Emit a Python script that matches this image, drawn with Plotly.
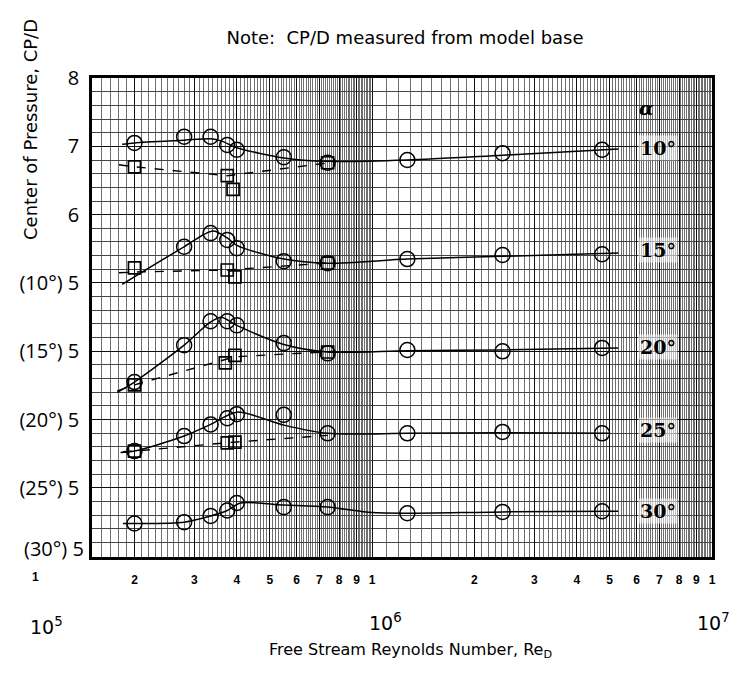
import numpy as np
import plotly.graph_objects as go

# ---------------- data ----------------
# Free-stream Reynolds number of the test points
re_pts = [2.0e5, 2.8e5, 3.35e5, 3.75e5, 4.0e5, 5.5e5, 7.4e5, 1.27e6, 2.42e6, 4.75e6]

# Circles (CP/D for each alpha, each curve on its own offset scale)
c10_re = re_pts
c10 = [7.05, 7.14, 7.14, 7.02, 6.95, 6.84, 6.76, 6.80, 6.90, 6.95]
c15_re = [2.8e5, 3.35e5, 3.75e5, 4.0e5, 5.5e5, 7.4e5, 1.27e6, 2.42e6, 4.75e6]
c15 = [6.53, 6.73, 6.63, 6.51, 6.32, 6.29, 6.35, 6.41, 6.42]
c20_re = re_pts
c20 = [5.55, 6.09, 6.44, 6.44, 6.38, 6.12, 5.97, 6.02, 6.00, 6.05]
c25_re = re_pts
c25 = [5.54, 5.76, 5.93, 6.02, 6.08, 6.07, 5.80, 5.80, 5.82, 5.80]
c30_re = re_pts
c30 = [5.48, 5.50, 5.59, 5.67, 5.78, 5.72, 5.72, 5.63, 5.65, 5.66]

# Squares
s10_re = [2.0e5, 3.75e5, 3.9e5, 7.4e5]
s10 = [6.70, 6.57, 6.37, 6.76]
s15_re = [2.0e5, 3.75e5, 3.95e5, 7.4e5]
s15 = [6.22, 6.19, 6.09, 6.29]
s20_re = [2.0e5, 3.7e5, 3.95e5, 7.4e5]
s20 = [5.51, 5.83, 5.94, 5.99]
s25_re = [2.0e5, 3.75e5, 3.95e5]
s25 = [5.54, 5.66, 5.67]

# Faired solid curves
f10_re = [1.84e5, 2.0e5, 2.8e5, 3.35e5, 3.6e5, 4.0e5, 5.5e5, 7.4e5, 1.27e6, 2.42e6, 5.3e6]
f10 = [7.03, 7.05, 7.09, 7.11, 7.08, 6.98, 6.83, 6.78, 6.80, 6.87, 6.96]
f15_re = [1.84e5, 2.8e5, 3.4e5, 3.75e5, 4.0e5, 5.5e5, 7.4e5, 1.27e6, 2.42e6, 5.3e6]
f15 = [5.98, 6.53, 6.76, 6.66, 6.55, 6.35, 6.29, 6.35, 6.39, 6.44]
f20_re = [1.78e5, 2.0e5, 2.8e5, 3.35e5, 3.6e5, 4.0e5, 5.5e5, 7.4e5, 1.27e6, 2.42e6, 5.3e6]
f20 = [5.40, 5.55, 6.09, 6.43, 6.50, 6.38, 6.10, 5.99, 6.01, 6.02, 6.05]
f25_re = [1.82e5, 2.0e5, 2.8e5, 3.35e5, 4.0e5, 5.5e5, 7.4e5, 1.27e6, 2.42e6, 5.0e6]
f25 = [5.52, 5.54, 5.76, 5.93, 6.11, 5.92, 5.80, 5.80, 5.81, 5.80]
f30_re = [1.85e5, 2.0e5, 2.8e5, 3.35e5, 3.75e5, 4.1e5, 5.5e5, 7.4e5, 1.0e6, 1.27e6, 2.42e6, 5.3e6]
f30 = [5.48, 5.48, 5.50, 5.59, 5.67, 5.78, 5.75, 5.72, 5.64, 5.63, 5.65, 5.66]

# Faired dashed curves (square symbols)
d10_re = [1.8e5, 2.0e5, 3.75e5, 7.4e5, 7.8e5]
d10 = [6.73, 6.70, 6.57, 6.76, 6.77]
d15_re = [1.8e5, 2.0e5, 3.75e5, 7.4e5, 7.8e5]
d15 = [6.15, 6.16, 6.19, 6.29, 6.30]
d20_re = [1.78e5, 2.0e5, 3.95e5, 7.4e5, 7.8e5]
d20 = [5.42, 5.51, 5.92, 5.99, 6.00]
d25_re = [1.85e5, 2.0e5, 3.9e5, 7.4e5]
d25 = [5.53, 5.54, 5.67, 5.77]

alphas = ["10°", "15°", "20°", "25°", "30°"]
offsets = [0, 1, 2, 3, 4]   # vertical offset of each curve's CP/D scale

y_tickvals = [8, 7, 6, 5, 4, 3, 2, 1]
y_ticktext = ["8", "7", "6", "(10°) 5", "(15°) 5", "(20°) 5", "(25°) 5", "(30°) 5"]
x_tickvals = [2e5, 3e5, 4e5, 5e5, 6e5, 7e5, 8e5, 9e5, 1e6,
              2e6, 3e6, 4e6, 5e6, 6e6, 7e6, 8e6, 9e6, 1e7]
x_ticktext = ["2", "3", "4", "5", "6", "7", "8", "9", "1",
              "2", "3", "4", "5", "6", "7", "8", "9", "1"]

# ---------------- figure ----------------
circles = [(c10_re, c10), (c15_re, c15), (c20_re, c20), (c25_re, c25), (c30_re, c30)]
squares = [(s10_re, s10), (s15_re, s15), (s20_re, s20), (s25_re, s25), None]
solids = [(f10_re, f10), (f15_re, f15), (f20_re, f20), (f25_re, f25), (f30_re, f30)]
dashes = [(d10_re, d10), (d15_re, d15), (d20_re, d20), (d25_re, d25), None]

fig = go.Figure()
for i, off in enumerate(offsets):
    xs, ys = solids[i]
    fig.add_trace(go.Scatter(x=xs, y=[v - off for v in ys], mode="lines",
                             line=dict(color="black", width=1.5, shape="spline", smoothing=0.8),
                             showlegend=False, hoverinfo="skip"))
    if dashes[i]:
        xs, ys = dashes[i]
        fig.add_trace(go.Scatter(x=xs, y=[v - off for v in ys], mode="lines",
                                 line=dict(color="black", width=1.4, dash="dash"),
                                 showlegend=False, hoverinfo="skip"))
    xs, ys = circles[i]
    fig.add_trace(go.Scatter(x=xs, y=[v - off for v in ys], mode="markers",
                             marker=dict(symbol="circle-open", size=15, color="black",
                                         line=dict(width=1.5)),
                             name=alphas[i], showlegend=False))
    if squares[i]:
        xs, ys = squares[i]
        fig.add_trace(go.Scatter(x=xs, y=[v - off for v in ys], mode="markers",
                                 marker=dict(symbol="square-open", size=12, color="black",
                                             line=dict(width=1.7)),
                                 name=alphas[i], showlegend=False))

# graph-paper minor grid positions (0.1 steps within each decade)
minor_x = []
for dec in [1e5, 1e6]:
    for m in np.arange(1.0, 10.0, 0.1):
        v = m * dec
        if v >= 1.5e5:
            minor_x.append(float(v))

L, R, T, B = 92, 22, 78, 118
W, H = 734, 675
pw, ph = W - L - R, H - T - B

def px(xp):
    return (xp - L) / pw

def py(yp):
    return (H - B - yp) / ph

# the bottom-most y label is drawn raised above the axis edge, as in the reference
axis_ticktext = y_ticktext[:-1] + [""]

fig.update_layout(
    width=W, height=H,
    margin=dict(l=L, r=R, t=T, b=B),
    paper_bgcolor="white", plot_bgcolor="white",
    font=dict(family="Liberation Sans, Arial, sans-serif", color="black"),
    title=dict(text="Note:  CP/D measured from model base", xref="container", yref="container",
               x=405 / W, y=1 - 38 / H, xanchor="center", yanchor="middle",
               font=dict(family="DejaVu Sans, sans-serif", size=18, color="black")),
    xaxis=dict(type="log", range=[np.log10(1.5e5), 7.0],
               tickmode="array", tickvals=x_tickvals,
               ticktext=["<b>" + t + "</b>" for t in x_ticktext],
               tickfont=dict(size=12, family="Liberation Sans", color="black"),
               ticks="", ticklabelstandoff=10,
               showgrid=True, gridcolor="#111", gridwidth=1.1,
               showline=True, linecolor="black", linewidth=2.5, mirror=True,
               minor=dict(tickmode="array", tickvals=minor_x, showgrid=True,
                          gridcolor="#707070", gridwidth=0.8, ticks=""),
               zeroline=False),
    yaxis=dict(range=[0.99, 8.0],
               tickmode="array", tickvals=y_tickvals, ticktext=axis_ticktext,
               tickfont=dict(size=20, family="Open Sans, sans-serif", color="black"),
               ticks="", ticklabelstandoff=6,
               showgrid=True, gridcolor="#111", gridwidth=1.1,
               showline=True, linecolor="black", linewidth=2.5, mirror=True,
               minor=dict(dtick=0.2, showgrid=True, gridcolor="#444", gridwidth=0.9, ticks=""),
               zeroline=False),
)

ann = []
def add(text, xp, yp, size, family, angle=0, bg=None, xanchor="center"):
    d = dict(text=text, x=px(xp), y=py(yp), xref="paper", yref="paper",
             xanchor=xanchor, yanchor="middle", showarrow=False, textangle=angle,
             font=dict(size=size, family=family, color="black"))
    if bg:
        d["bgcolor"] = bg
    ann.append(d)

add(y_ticktext[-1], 86, 548, 20, "Open Sans, sans-serif", xanchor="right")
# x-axis extra labels
add("<b>1</b>", 35, 577, 12, "Liberation Sans")
for txt, xp, yp in [("10<sup>5</sup>", 46, 626), ("10<sup>6</sup>", 385, 622), ("10<sup>7</sup>", 713, 622)]:
    add(txt, xp, yp, 19, "DejaVu Sans, sans-serif")
add("Free Stream Reynolds Number, Re<sub>D</sub>", 410, 650, 16, "DejaVu Sans, sans-serif")
add("Center of Pressure, CP/D", 30, 130, 18, "DejaVu Sans, sans-serif", angle=-90)
# alpha labels at the right
add("<b><i>α</i></b>", 646, 108, 19, "DejaVu Serif")
for txt, yp in zip(alphas, [148, 250, 347, 430, 511]):
    add("<b>" + txt + "</b>", 658, yp, 19, "DejaVu Serif", bg="rgba(255,255,255,0.55)")
fig.update_layout(annotations=ann)

fig.write_html("out.html")
